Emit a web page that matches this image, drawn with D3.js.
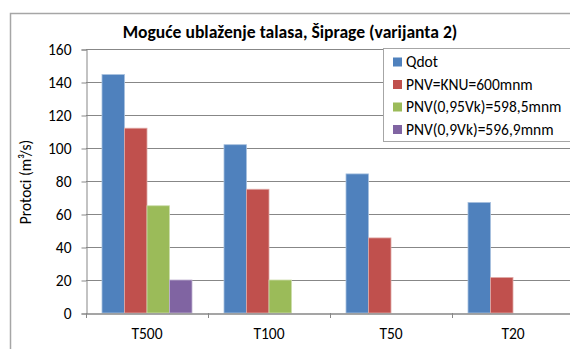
<!DOCTYPE html>
<html>
<head>
<meta charset="utf-8">
<script src="https://cdn.jsdelivr.net/npm/d3@7"></script>
<style>
  html, body { margin: 0; padding: 0; background: #fff; }
  svg { display: block; font-family: Carlito, Lato, "Open Sans", sans-serif; }
</style>
</head>
<body>
<svg id="chart" width="570" height="349"></svg>
<script>
// Return periods on the x axis
const categories = ["T500", "T100", "T50", "T20"];

// Series names as shown in the legend
const seriesNames = [
  "Qdot",
  "PNV=KNU=600mnm",
  "PNV(0,95Vk)=598,5mnm",
  "PNV(0,9Vk)=596,9mnm"
];

// Flows (m³/s) per series, one value per category; null = no bar
const qdot      = [144.5, 102, 84.3, 67];
const pnvKnu    = [112, 75, 45.5, 21.5];
const pnv095    = [65, 20, null, null];
const pnv090    = [20, null, null, null];

const yTicks = [0, 20, 40, 60, 80, 100, 120, 140, 160];
const colors = ["#4F81BD", "#C0504D", "#9BBB59", "#8064A2"];
const borders = ["#A7C0DE", "#DFA8A6", "#CDDDAC", "#BFB1D0"];

const seriesValues = [qdot, pnvKnu, pnv095, pnv090];

const FONT = "Carlito, Lato, 'Open Sans', sans-serif";
const LABEL_SIZE = "15.5px";

const svg = d3.select("#chart");

// Outer chart frame
svg.append("rect")
  .attr("x", 10.5).attr("y", 13.5)
  .attr("width", 600).attr("height", 400)
  .attr("fill", "#fff")
  .attr("stroke", "#A6A6A6")
  .attr("stroke-width", 1.5);

// Plot area
const plot = { left: 86, right: 574, top: 49, bottom: 313 };

const x0 = d3.scaleBand()
  .domain(categories)
  .range([plot.left, plot.right]);

// Series bars inside each category, with a gap on both sides
const x1 = d3.scaleBand()
  .domain(d3.range(seriesNames.length))
  .range([16, x0.bandwidth() - 16]);

const y = d3.scaleLinear().domain([0, 160]).range([plot.bottom, plot.top]);

// Horizontal gridlines
svg.append("g")
  .selectAll("line")
  .data(yTicks.filter(d => d > 0))
  .join("line")
  .attr("x1", plot.left).attr("x2", plot.right)
  .attr("y1", d => Math.round(y(d)) + 0.5)
  .attr("y2", d => Math.round(y(d)) + 0.5)
  .attr("stroke", "#878787")
  .attr("stroke-width", 1);

// Y axis
const yAxis = d3.axisLeft(y)
  .tickValues(yTicks)
  .tickSize(5)
  .tickPadding(10)
  .tickFormat(d3.format("d"));

const gy = svg.append("g")
  .attr("transform", `translate(${plot.left + 0.5},0.5)`)
  .call(yAxis);
gy.select(".domain").attr("stroke", "#878787");
gy.selectAll(".tick line").attr("stroke", "#878787");
gy.selectAll(".tick text")
  .attr("fill", "#000")
  .style("font-size", LABEL_SIZE)
  .style("font-family", FONT);

// Bars
const groups = svg.append("g")
  .selectAll("g")
  .data(categories)
  .join("g")
  .attr("transform", d => `translate(${x0(d)},0)`);

groups.selectAll("rect")
  .data((c, ci) => seriesValues
    .map((vals, si) => ({ si, v: vals[ci] }))
    .filter(d => d.v != null))
  .join("rect")
  .attr("x", d => x1(d.si))
  .attr("y", d => y(d.v))
  .attr("width", x1.bandwidth())
  .attr("height", d => y(0) - y(d.v))
  .attr("fill", d => colors[d.si])
  .attr("stroke", d => borders[d.si])
  .attr("stroke-width", 0.8);

// X axis
const xAxis = d3.axisBottom(x0)
  .tickSize(0)
  .tickPadding(14);

const gx = svg.append("g")
  .attr("transform", `translate(0,${plot.bottom + 0.5})`)
  .call(xAxis);
gx.select(".domain").attr("stroke", "#878787").attr("stroke-width", 1.5);
gx.selectAll(".tick text")
  .attr("fill", "#000")
  .style("font-size", LABEL_SIZE)
  .style("font-family", FONT);

// Category separator ticks
svg.append("g")
  .selectAll("line")
  .data(categories)
  .join("line")
  .attr("x1", d => Math.round(x0(d)) + 0.5)
  .attr("x2", d => Math.round(x0(d)) + 0.5)
  .attr("y1", plot.bottom)
  .attr("y2", plot.bottom + 5)
  .attr("stroke", "#878787");

// Y axis title
svg.append("text")
  .attr("transform", "translate(31,182) rotate(-90)")
  .attr("text-anchor", "middle")
  .style("font-size", LABEL_SIZE)
  .text("Protoci (m³/s)");

// Chart title
svg.append("text")
  .attr("x", 290).attr("y", 38)
  .attr("text-anchor", "middle")
  .style("font-size", "17.6px")
  .style("font-weight", "bold")
  .text("Moguće ublaženje talasa, Šiprage (varijanta 2)");

// Legend
const legend = svg.append("g");
legend.append("rect")
  .attr("x", 383.5).attr("y", 48.5)
  .attr("width", 300).attr("height", 93)
  .attr("fill", "#fff")
  .attr("stroke", "#A6A6A6");

const items = legend.selectAll("g.item")
  .data(seriesNames)
  .join("g")
  .attr("class", "item")
  .attr("transform", (d, i) => `translate(393,${62 + i * 22.5})`);

items.append("rect")
  .attr("x", 0).attr("y", -4.5)
  .attr("width", 9).attr("height", 9)
  .attr("fill", (d, i) => colors[i]);

items.append("text")
  .attr("x", 13).attr("y", 0)
  .attr("dy", "0.35em")
  .style("font-size", LABEL_SIZE)
  .text(d => d);
</script>
</body>
</html>
